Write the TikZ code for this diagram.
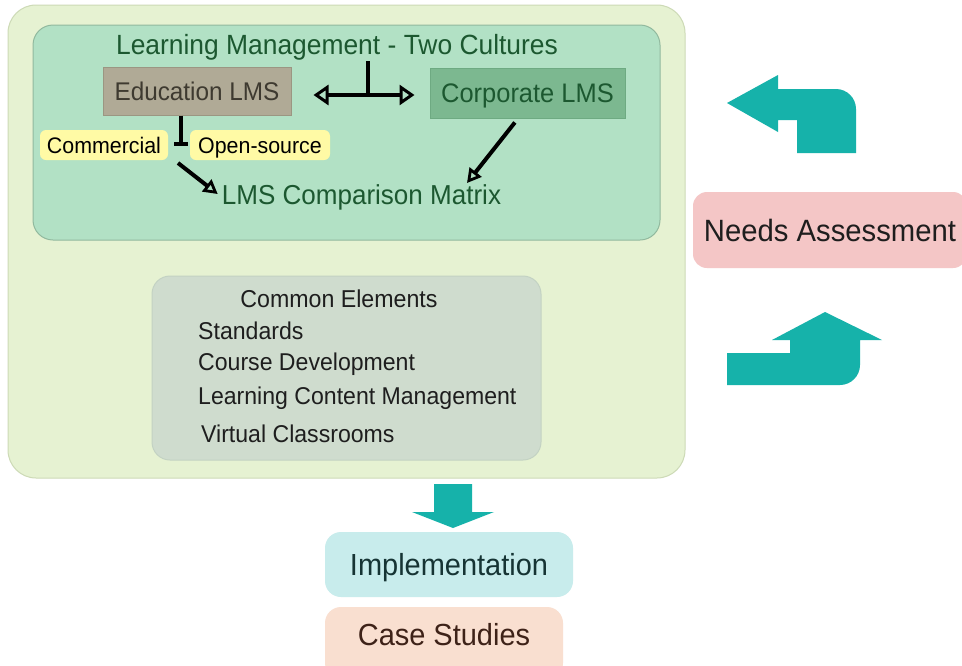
\documentclass[tikz,border=0pt]{standalone}
\usepackage{fontspec}
\setmainfont{Liberation Sans}[FakeStretch=0.95]
\usetikzlibrary{arrows.meta}
\definecolor{outerfill}{RGB}{230,242,210}
\definecolor{outerline}{RGB}{205,218,182}
\definecolor{innerfill}{RGB}{178,225,197}
\definecolor{innerline}{RGB}{145,185,158}
\definecolor{edufill}{RGB}{176,170,150}
\definecolor{eduline}{RGB}{155,150,130}
\definecolor{corpfill}{RGB}{124,184,144}
\definecolor{corpline}{RGB}{110,170,130}
\definecolor{yel}{RGB}{255,250,165}
\definecolor{cefill}{RGB}{207,220,206}
\definecolor{celine}{RGB}{195,210,195}
\definecolor{needfill}{RGB}{244,198,198}
\definecolor{implfill}{RGB}{200,236,236}
\definecolor{casefill}{RGB}{249,223,208}
\definecolor{tealarrow}{RGB}{22,178,170}
\definecolor{dkgreen}{RGB}{28,88,48}
\definecolor{edutext}{RGB}{62,58,48}
\definecolor{darktxt}{RGB}{30,30,30}
\definecolor{impltxt}{RGB}{22,52,52}
\definecolor{casetxt}{RGB}{62,34,24}
\tikzset{
  panel/.style={draw, line width=1pt, inner sep=0pt},
  lbl/.style={inner sep=1pt, text=darktxt},
  conn/.style={draw=black, line width=4pt},
  arr/.style={conn, -{Triangle[open, length=14pt, width=15pt, line width=2.8pt]}},
  dbl/.style={draw=black, line width=4.2pt,
    {Triangle[open, length=15pt, width=20pt, line width=3pt]}-{Triangle[open, length=15pt, width=20pt, line width=3pt]}},
  yelbox/.style={fill=yel, rounded corners=6pt, minimum height=30pt, inner sep=0pt, text=black,
    text height=21pt, text depth=5pt, font=\fontsize{22.5}{26}\selectfont},
  item/.style={lbl, anchor=west, inner sep=0pt, font=\fontsize{24.3}{28}\selectfont},
}
\begin{document}
\begin{tikzpicture}[x=1pt, y=-1pt]
\clip (0,0) rectangle (962,665);
\fill[white] (0,0) rectangle (962,665);

% outer panel
\node[panel, fill=outerfill, draw=outerline, rounded corners=28pt,
      minimum width=677pt, minimum height=473pt] (outer) at (346.5,241.5) {};
% inner top panel
\node[panel, fill=innerfill, draw=innerline, rounded corners=20pt,
      minimum width=627pt, minimum height=215pt] (inner) at (346.5,132.5) {};

\node[lbl, text=dkgreen, font=\fontsize{27.8}{32}\selectfont] (title) at (337,47)
  {Learning Management - Two Cultures};

\node[panel, fill=edufill, draw=eduline, minimum width=188pt, minimum height=48pt,
      text=edutext, font=\fontsize{25.6}{30}\selectfont] (edu) at (197,91) {Education LMS};
\node[panel, fill=corpfill, draw=corpline, minimum width=195pt, minimum height=50pt,
      text height=24.7pt, text depth=5.5pt,
      text=dkgreen, font=\fontsize{26.8}{30}\selectfont] (corp) at (527.5,93) {Corporate LMS};

\node[yelbox, minimum width=128pt] (comm) at (104,145) {Commercial};
\node[yelbox, minimum width=140pt] (open) at (260,145) {Open-source};

\node[lbl, text=dkgreen, font=\fontsize{27.4}{32}\selectfont] (mat) at (361.5,197)
  {LMS Comparison Matrix};

% connectors in top panel
\draw[dbl, shorten <=22pt, shorten >=15pt] ([yshift=-4pt]edu.east) -- ([yshift=-2pt]corp.west);
\draw[conn] (368,96) -- (368,0 |- title.south);
\draw[conn, line width=3.2pt] (181,0 |- edu.south) -- (181,144);
\draw[conn, line width=3.2pt] (174,144) -- (188,144);
\draw[arr] (178,163) -- ([xshift=-3pt,yshift=3pt]mat.west);
\draw[arr, shorten <=5pt] ([xshift=-9.5pt]corp.south) -- (467,183);

% common elements
\node[panel, fill=cefill, draw=celine, rounded corners=18pt,
      minimum width=389pt, minimum height=184pt] (ce) at (346.5,368) {};
\node[lbl, font=\fontsize{24.4}{28}\selectfont] (cetitle) at (339,299) {Common Elements};
\node[item] (ce1) at (198,331) {Standards};
\node[item] (ce2) at (198,364) {Course Development};
\node[item] (ce3) at (198,398) {Learning Content Management};
\node[item] (ce4) at (201,434) {Virtual Classrooms};

% needs assessment
\node[fill=needfill, rounded corners=14pt, minimum width=274pt, minimum height=76pt,
      inner sep=0pt, text=darktxt, font=\fontsize{30.8}{34}\selectfont] (needs) at (830,230) {Needs Assessment};

% teal arrows
\fill[tealarrow] (727,103) -- (778,75) -- (778,89) -- (836,89)
  .. controls (847,89) and (856,98) .. (856,109) -- (856,153) -- (797,153)
  -- (797,120) -- (778,120) -- (778,132) -- cycle;
\fill[tealarrow] (825,312) -- (882,340) -- (860,340) -- (860,365)
  .. controls (860,376) and (851,385) .. (840,385) -- (727,385) -- (727,353)
  -- (790,353) -- (790,340) -- (772,340) -- cycle;
\fill[tealarrow] (434,484) -- (472,484) -- (472,512) -- (494,512) -- (453,528)
  -- (412,512) -- (434,512) -- cycle;

% implementation and case studies
\node[fill=implfill, rounded corners=16pt, minimum width=248pt, minimum height=65pt,
      inner sep=0pt, text height=28.3pt, text depth=6.5pt,
      text=impltxt, font=\fontsize{30.5}{34}\selectfont] (impl) at (449,564.5) {Implementation};
\node[fill=casefill, rounded corners=16pt, minimum width=238pt, minimum height=72pt,
      inner sep=0pt] (case) at (444,643) {};
\node[lbl, text=casetxt, font=\fontsize{30.5}{34}\selectfont] (casetext) at (444,635) {Case Studies};
\end{tikzpicture}
\end{document}
